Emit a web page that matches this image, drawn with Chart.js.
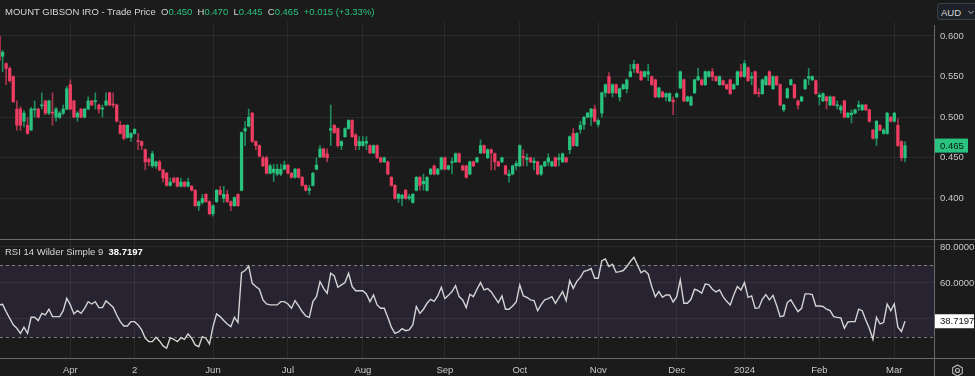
<!DOCTYPE html>
<html>
<head>
<meta charset="utf-8">
<script src="https://cdn.jsdelivr.net/npm/chart.js@4.4.1/dist/chart.umd.min.js"></script>
<style>
  html, body { margin: 0; padding: 0; background: #1b1b1b; }
  body { width: 975px; height: 376px; position: relative; overflow: hidden; font-family: 'Liberation Sans', Arial, sans-serif; }
  .abs { position: absolute; }
  #hdr, #rsiHdr { font-size: 9.5px; color: #d6d6d6; white-space: pre; line-height: 12px; }
  .g { color: #2ac27f; }
  .line { background: #6a6a6a; }
  #aud { left: 937px; top: 3px; width: 44px; height: 17px; border: 1px solid #3a3f47; border-radius: 3px; background: #1e2228;
         font-size: 9.5px; color: #d8d8d8; line-height: 17px; padding-left: 3px; box-sizing: border-box; }
</style>
</head>
<body>
<canvas id="price" class="abs" width="975" height="239" style="left:0;top:0"></canvas>
<canvas id="rsi" class="abs" width="975" height="136" style="left:0;top:240px"></canvas>

<div class="abs line" style="left:0;top:239px;width:975px;height:1px"></div>
<div class="abs line" style="left:0;top:358px;width:975px;height:1px"></div>
<div class="abs line" style="left:934px;top:25px;width:1px;height:351px"></div>

<div id="hdr" class="abs" style="left:5px;top:6px"></div>
<div id="rsiHdr" class="abs" style="left:5px;top:246px"></div>
<div id="aud" class="abs">AUD
  <svg class="abs" style="left:30px;top:6px" width="6" height="5"><polyline points="0.5,1 3,3.5 5.5,1" fill="none" stroke="#bbb" stroke-width="1"/></svg>
</div>
<svg class="abs" style="left:951px;top:364px" width="13" height="13">
  <polygon points="6.5,1 11.3,3.75 11.3,9.25 6.5,12 1.7,9.25 1.7,3.75" fill="none" stroke="#bdbdbd" stroke-width="1.1"/>
  <circle cx="6.5" cy="6.5" r="2" fill="none" stroke="#bdbdbd" stroke-width="1.1"/>
</svg>

<script>
// daily candles, 6 Mar 2023 .. 6 Mar 2024
const opens = [
  0.600,0.575,0.566,0.560,0.550,0.510,0.510,0.495,0.490,0.484,
  0.509,0.510,0.514,0.520,0.505,0.506,0.500,0.500,0.505,0.510,
  0.540,0.520,0.500,0.510,0.500,0.510,0.520,0.519,0.515,0.510,
  0.515,0.530,0.516,0.515,0.490,0.490,0.475,0.475,0.480,0.471,
  0.470,0.460,0.448,0.440,0.440,0.445,0.435,0.431,0.416,0.425,
  0.425,0.415,0.420,0.415,0.415,0.410,0.391,0.395,0.405,0.396,
  0.381,0.396,0.410,0.400,0.405,0.396,0.391,0.405,0.410,0.483,
  0.489,0.505,0.470,0.465,0.450,0.450,0.431,0.432,0.430,0.430,
  0.436,0.441,0.431,0.426,0.436,0.426,0.416,0.410,0.416,0.436,
  0.451,0.461,0.455,0.484,0.490,0.486,0.465,0.476,0.486,0.496,
  0.478,0.465,0.465,0.468,0.465,0.456,0.465,0.450,0.445,0.445,
  0.426,0.416,0.400,0.400,0.410,0.400,0.395,0.410,0.426,0.418,
  0.410,0.430,0.440,0.430,0.436,0.450,0.436,0.444,0.445,0.455,
  0.440,0.440,0.430,0.445,0.445,0.456,0.465,0.450,0.460,0.455,
  0.445,0.445,0.440,0.428,0.430,0.440,0.440,0.452,0.448,0.450,
  0.444,0.445,0.430,0.440,0.445,0.440,0.450,0.448,0.445,0.450,
  0.460,0.480,0.465,0.485,0.491,0.500,0.500,0.510,0.491,0.505,
  0.530,0.550,0.530,0.540,0.525,0.535,0.535,0.550,0.560,0.565,
  0.556,0.550,0.553,0.550,0.546,0.525,0.531,0.525,0.520,0.521,
  0.525,0.536,0.546,0.520,0.515,0.530,0.546,0.546,0.540,0.550,
  0.556,0.550,0.540,0.545,0.540,0.546,0.535,0.540,0.556,0.550,
  0.561,0.548,0.556,0.530,0.529,0.540,0.556,0.535,0.550,0.540,
  0.509,0.524,0.540,0.540,0.520,0.520,0.535,0.548,0.546,0.545,
  0.525,0.520,0.525,0.515,0.525,0.514,0.509,0.520,0.500,0.503,
  0.505,0.513,0.509,0.515,0.509,0.484,0.474,0.490,0.480,0.480,
  0.500,0.495,0.490,0.470,0.450
]
const highs = [
  0.602,0.582,0.567,0.562,0.551,0.520,0.513,0.508,0.500,0.512,
  0.520,0.511,0.530,0.521,0.521,0.530,0.512,0.507,0.515,0.538,
  0.546,0.521,0.507,0.511,0.511,0.525,0.521,0.530,0.516,0.515,
  0.530,0.531,0.530,0.516,0.495,0.491,0.491,0.481,0.486,0.480,
  0.471,0.461,0.450,0.458,0.446,0.447,0.436,0.432,0.425,0.426,
  0.426,0.425,0.421,0.425,0.416,0.411,0.397,0.405,0.406,0.397,
  0.392,0.411,0.415,0.415,0.410,0.397,0.402,0.406,0.482,0.495,
  0.510,0.506,0.471,0.466,0.452,0.452,0.442,0.442,0.442,0.442,
  0.446,0.442,0.432,0.437,0.437,0.427,0.417,0.416,0.432,0.450,
  0.465,0.462,0.461,0.515,0.491,0.487,0.471,0.487,0.497,0.497,
  0.480,0.476,0.476,0.476,0.466,0.466,0.466,0.451,0.451,0.446,
  0.427,0.417,0.406,0.405,0.411,0.405,0.406,0.427,0.427,0.430,
  0.427,0.437,0.441,0.437,0.451,0.451,0.441,0.450,0.456,0.456,
  0.441,0.441,0.446,0.446,0.451,0.472,0.466,0.461,0.461,0.456,
  0.446,0.451,0.441,0.435,0.441,0.446,0.466,0.460,0.455,0.451,
  0.450,0.446,0.441,0.446,0.455,0.446,0.451,0.455,0.456,0.451,
  0.477,0.486,0.481,0.495,0.501,0.506,0.511,0.515,0.498,0.531,
  0.541,0.555,0.541,0.541,0.536,0.541,0.547,0.565,0.570,0.566,
  0.557,0.557,0.565,0.551,0.547,0.537,0.532,0.530,0.530,0.525,
  0.530,0.557,0.547,0.526,0.526,0.547,0.560,0.547,0.557,0.557,
  0.560,0.551,0.551,0.546,0.541,0.547,0.541,0.557,0.565,0.570,
  0.562,0.555,0.557,0.535,0.547,0.551,0.557,0.551,0.551,0.541,
  0.516,0.536,0.547,0.541,0.521,0.526,0.547,0.560,0.551,0.546,
  0.530,0.530,0.526,0.526,0.526,0.520,0.515,0.521,0.506,0.509,
  0.510,0.520,0.516,0.516,0.510,0.485,0.496,0.491,0.486,0.506,
  0.501,0.506,0.498,0.471,0.470
]
const lows = [
  0.565,0.556,0.540,0.543,0.518,0.484,0.484,0.488,0.479,0.484,
  0.500,0.499,0.510,0.503,0.503,0.490,0.495,0.498,0.503,0.509,
  0.509,0.499,0.495,0.499,0.499,0.509,0.514,0.510,0.505,0.500,
  0.514,0.514,0.512,0.494,0.479,0.472,0.474,0.470,0.479,0.460,
  0.460,0.435,0.440,0.438,0.437,0.434,0.420,0.415,0.415,0.419,
  0.414,0.414,0.414,0.414,0.409,0.390,0.385,0.393,0.395,0.380,
  0.378,0.395,0.404,0.395,0.395,0.385,0.390,0.390,0.409,0.465,
  0.488,0.469,0.460,0.451,0.439,0.430,0.430,0.421,0.428,0.428,
  0.435,0.430,0.425,0.425,0.425,0.415,0.409,0.405,0.415,0.435,
  0.450,0.450,0.445,0.465,0.480,0.463,0.460,0.475,0.485,0.475,
  0.460,0.460,0.464,0.460,0.455,0.455,0.449,0.444,0.444,0.429,
  0.415,0.399,0.395,0.391,0.399,0.398,0.394,0.409,0.410,0.410,
  0.409,0.429,0.429,0.429,0.435,0.435,0.435,0.430,0.444,0.444,
  0.434,0.425,0.429,0.439,0.444,0.455,0.455,0.449,0.435,0.435,
  0.439,0.444,0.429,0.420,0.429,0.435,0.439,0.440,0.440,0.444,
  0.435,0.429,0.428,0.439,0.440,0.439,0.439,0.440,0.444,0.444,
  0.455,0.464,0.464,0.480,0.485,0.499,0.490,0.494,0.488,0.500,
  0.525,0.529,0.525,0.529,0.520,0.534,0.530,0.549,0.555,0.554,
  0.545,0.549,0.545,0.539,0.524,0.524,0.524,0.520,0.519,0.503,
  0.524,0.535,0.519,0.519,0.514,0.529,0.545,0.539,0.539,0.549,
  0.545,0.544,0.539,0.539,0.534,0.528,0.534,0.539,0.549,0.549,
  0.544,0.540,0.528,0.525,0.528,0.539,0.539,0.534,0.539,0.514,
  0.507,0.523,0.539,0.523,0.510,0.519,0.534,0.540,0.545,0.528,
  0.515,0.519,0.510,0.514,0.514,0.510,0.505,0.499,0.499,0.493,
  0.504,0.508,0.508,0.508,0.494,0.473,0.465,0.483,0.479,0.479,
  0.494,0.494,0.464,0.446,0.445
]
const closes = [
  0.570,0.580,0.560,0.545,0.519,0.490,0.490,0.505,0.480,0.510,
  0.510,0.500,0.515,0.505,0.520,0.505,0.510,0.505,0.510,0.535,
  0.510,0.500,0.505,0.500,0.510,0.520,0.515,0.520,0.510,0.511,
  0.520,0.515,0.515,0.495,0.480,0.474,0.490,0.480,0.485,0.470,
  0.465,0.445,0.445,0.455,0.445,0.435,0.425,0.416,0.420,0.420,
  0.415,0.420,0.415,0.420,0.410,0.391,0.396,0.400,0.396,0.381,
  0.391,0.410,0.405,0.405,0.396,0.391,0.401,0.391,0.481,0.486,
  0.500,0.470,0.465,0.452,0.440,0.431,0.440,0.436,0.436,0.436,
  0.441,0.431,0.426,0.436,0.426,0.416,0.410,0.412,0.431,0.441,
  0.461,0.451,0.450,0.486,0.481,0.465,0.470,0.486,0.496,0.476,
  0.465,0.470,0.470,0.470,0.456,0.465,0.450,0.445,0.450,0.430,
  0.416,0.400,0.405,0.404,0.400,0.402,0.405,0.426,0.416,0.421,
  0.426,0.436,0.430,0.436,0.450,0.436,0.440,0.445,0.455,0.445,
  0.435,0.426,0.445,0.440,0.450,0.465,0.456,0.460,0.456,0.445,
  0.440,0.450,0.430,0.430,0.440,0.443,0.465,0.450,0.450,0.445,
  0.446,0.430,0.440,0.445,0.450,0.445,0.440,0.450,0.455,0.445,
  0.476,0.465,0.480,0.490,0.500,0.505,0.510,0.495,0.496,0.530,
  0.540,0.530,0.540,0.530,0.535,0.540,0.546,0.556,0.565,0.555,
  0.546,0.556,0.556,0.540,0.525,0.536,0.525,0.529,0.529,0.519,
  0.529,0.556,0.520,0.525,0.525,0.546,0.550,0.540,0.556,0.556,
  0.550,0.545,0.550,0.540,0.535,0.529,0.540,0.556,0.550,0.566,
  0.545,0.550,0.529,0.529,0.546,0.550,0.540,0.550,0.540,0.515,
  0.515,0.535,0.546,0.524,0.515,0.525,0.546,0.550,0.550,0.529,
  0.527,0.529,0.520,0.525,0.515,0.515,0.513,0.500,0.505,0.505,
  0.509,0.515,0.515,0.509,0.495,0.474,0.495,0.484,0.484,0.505,
  0.495,0.505,0.465,0.450,0.465
]
const rsi = [
  47.8,48.1,44.1,40.4,36.7,34.8,32.0,35.4,32.0,40.9,
  40.9,39.1,43.1,42.2,45.4,41.3,41.3,41.3,44.6,51.5,
  47.8,42.8,44.6,43.1,45.9,49.6,48.3,49.6,46.3,46.3,
  50.0,48.3,46.5,42.2,38.5,36.1,36.1,38.5,38.5,36.7,
  33.9,29.3,27.4,27.4,29.8,27.8,25.0,23.7,29.6,28.7,
  27.4,29.6,28.7,31.7,29.3,25.6,24.6,30.2,29.3,26.1,
  35.7,42.8,41.3,39.1,37.2,35.7,40.9,38.0,65.7,66.9,
  69.4,59.8,58.0,56.5,50.6,48.3,47.8,47.8,47.8,49.6,
  49.6,48.3,45.9,50.2,47.2,44.1,41.7,40.9,49.6,52.4,
  60.7,57.0,54.3,65.4,63.9,57.6,58.9,60.2,65.4,58.0,
  55.7,55.7,55.7,53.9,49.6,53.3,47.8,45.9,45.9,40.9,
  35.4,32.0,32.8,34.6,33.5,33.9,36.7,46.9,43.1,45.4,
  48.7,50.9,49.8,52.8,57.6,51.3,53.1,55.2,58.5,52.4,
  50.6,46.3,53.7,52.4,56.5,60.2,56.1,56.9,55.0,52.0,
  49.1,52.8,45.4,45.4,47.2,49.4,58.9,52.8,52.0,50.6,
  50.2,44.6,48.0,50.6,51.3,52.4,48.7,52.0,55.2,50.2,
  61.3,57.0,60.9,63.1,66.5,67.0,68.0,62.6,62.6,72.4,
  73.3,69.1,70.4,65.9,66.3,66.9,69.1,71.9,74.3,70.0,
  65.7,66.9,65.0,58.0,52.4,55.2,52.0,53.3,53.3,49.4,
  52.4,61.7,48.7,48.7,50.9,56.5,55.7,54.3,59.4,59.1,
  56.5,55.0,56.1,52.4,49.8,47.8,53.3,58.0,56.1,60.2,
  52.0,52.8,45.9,46.1,50.9,53.5,50.6,53.1,47.6,41.3,
  41.7,49.1,50.6,47.2,44.1,45.9,53.9,53.9,53.5,47.2,
  47.2,46.9,45.4,44.6,41.3,40.9,40.6,34.8,38.3,38.5,
  38.5,45.4,44.6,39.4,34.8,28.7,40.9,37.2,38.0,48.3,
  44.6,48.3,35.4,33.0,38.7197
]

// month ticks (candle index) and their labels
const monthIdx = [20, 38, 60, 81, 102, 125, 146, 168, 190, 209, 230, 251]
const monthLabels = ['Apr', '2', 'Jun', 'Jul', 'Aug', 'Sep', 'Oct', 'Nov', 'Dec', '2024', 'Feb', 'Mar']
const priceTicks = [0.4, 0.45, 0.5, 0.55, 0.6]
const rsiTicks = [40, 60, 80]
const rsiBand = [30, 70]

const UP = '#2ac27f', DOWN = '#ee3d62', UP_W = '#1f8c5d', DOWN_W = '#a9354d'
const GRID = 'rgba(255,255,255,0.065)'
const TXT = '#c9c9c9'
const FONT = "'Liberation Sans', Arial, sans-serif"
const X_MIN = 0.28, X_MAX = 262.13

const last = closes.length - 1
const chg = closes[last] - closes[last - 1]
document.getElementById('hdr').innerHTML =
    'MOUNT GIBSON IRO - Trade Price  O<span class="g">' + opens[last].toFixed(3) +
    '</span>  H<span class="g">' + highs[last].toFixed(3) +
    '</span>  L<span class="g">' + lows[last].toFixed(3) +
    '</span>  C<span class="g">' + closes[last].toFixed(3) +
    '</span>  <span class="g">+' + chg.toFixed(3) + ' (+' + (chg / closes[last - 1] * 100).toFixed(2) + '%)</span>'
document.getElementById('rsiHdr').innerHTML =
    'RSI 14 Wilder Simple 9  <b style="color:#fff">' + rsi[last].toFixed(4) + '</b>'

const xAxis = showLabels => ({
    type: 'linear', min: X_MIN, max: X_MAX, offset: false,
    grid: { color: GRID, drawTicks: false, offset: false },
    border: { display: false },
    ticks: {
        display: showLabels, padding: 7, color: TXT, autoSkip: false, maxRotation: 0,
        font: { family: FONT, size: 9.5 },
        callback: (v, i) => monthLabels[i]
    },
    afterBuildTicks: s => { s.ticks = monthIdx.map(v => ({ value: v })) },
    afterFit: s => { s.height = showLabels ? 18 : 0; s.paddingLeft = 0; s.paddingRight = 0 }
})

const yFit = s => { s.width = 41; s.paddingTop = 0; s.paddingBottom = 0 }

const boxLabel = (ctx, x, y, w, text, bg, fg) => {
    ctx.save()
    ctx.fillStyle = bg
    ctx.fillRect(x, y - 7, w, 14)
    ctx.fillStyle = fg
    ctx.font = '9.5px ' + FONT
    ctx.textBaseline = 'middle'
    ctx.fillText(text, x + 5, y + 0.5)
    ctx.restore()
}

const lastPricePlugin = {
    id: 'lastPrice',
    afterDraw(chart) {
        const y = chart.scales.y.getPixelForValue(closes[last])
        boxLabel(chart.ctx, chart.chartArea.right + 1, y, 33, closes[last].toFixed(3),
            closes[last] >= opens[last] ? UP : DOWN, '#0c1a12')
    }
}

const rsiBandPlugin = {
    id: 'rsiBand',
    beforeDraw(chart) {
        const { ctx, chartArea: a, scales: { y } } = chart
        const top = y.getPixelForValue(rsiBand[1]), bot = y.getPixelForValue(rsiBand[0])
        ctx.save()
        ctx.fillStyle = '#282331'
        ctx.fillRect(a.left, top, a.right - a.left, bot - top)
        ctx.restore()
    },
    beforeDatasetsDraw(chart) {
        const { ctx, chartArea: a, scales: { y } } = chart
        ctx.save()
        ctx.strokeStyle = 'rgba(160,160,160,0.75)'
        ctx.lineWidth = 1
        ctx.setLineDash([3, 3])
        rsiBand.forEach(v => {
            const py = Math.round(y.getPixelForValue(v)) + 0.5
            ctx.beginPath()
            ctx.moveTo(a.left, py)
            ctx.lineTo(a.right, py)
            ctx.stroke()
        })
        ctx.restore()
    },
    afterDraw(chart) {
        const y = chart.scales.y.getPixelForValue(rsi[last])
        boxLabel(chart.ctx, chart.chartArea.right + 1, y, 39, rsi[last].toFixed(4), '#ffffff', '#111111')
    }
}

const wickData = closes.map((c, i) => ({ x: i, y: [lows[i], highs[i]] }))
const bodyData = closes.map((c, i) => ({ x: i, y: [Math.min(opens[i], c), Math.max(opens[i], c)] }))
const upDown = closes.map((c, i) => c >= opens[i])

new Chart(document.getElementById('price'), {
    type: 'bar',
    data: {
        datasets: [
            {
                data: bodyData, order: 0, grouped: false, barThickness: 2.6, minBarLength: 1,
                backgroundColor: upDown.map(u => u ? UP : DOWN), borderWidth: 0
            },
            {
                data: wickData, order: 1, grouped: false, barThickness: 1,
                backgroundColor: upDown.map(u => u ? UP_W : DOWN_W), borderWidth: 0
            }
        ]
    },
    options: {
        responsive: false, animation: false,
        layout: { padding: { top: 22, left: 0, right: 0, bottom: 0 } },
        plugins: { legend: { display: false }, tooltip: { enabled: false } },
        scales: {
            x: xAxis(false),
            y: {
                position: 'right', min: 0.35, max: 0.6172,
                grid: { color: GRID, drawTicks: false },
                border: { display: false },
                ticks: { color: TXT, padding: 6, font: { family: FONT, size: 9.5 }, callback: v => v.toFixed(3) },
                afterBuildTicks: s => { s.ticks = priceTicks.map(v => ({ value: v })) },
                afterFit: yFit
            }
        }
    },
    plugins: [lastPricePlugin]
})

new Chart(document.getElementById('rsi'), {
    type: 'line',
    data: {
        datasets: [{
            data: rsi.map((v, i) => ({ x: i, y: v })),
            borderColor: '#d4d4d4', borderWidth: 1.4, pointRadius: 0, tension: 0
        }]
    },
    options: {
        responsive: false, animation: false,
        layout: { padding: { top: 1, left: 0, right: 0, bottom: 0 } },
        plugins: { legend: { display: false }, tooltip: { enabled: false } },
        scales: {
            x: xAxis(true),
            y: {
                position: 'right', min: 18.3, max: 83.3,
                grid: { color: GRID, drawTicks: false },
                border: { display: false },
                ticks: {
                    color: TXT, padding: 6, font: { family: FONT, size: 9.5 },
                    callback: v => v >= 60 ? v.toFixed(4) : ''
                },
                afterBuildTicks: s => { s.ticks = rsiTicks.map(v => ({ value: v })) },
                afterFit: yFit
            }
        }
    },
    plugins: [rsiBandPlugin]
})
</script>
</body>
</html>
